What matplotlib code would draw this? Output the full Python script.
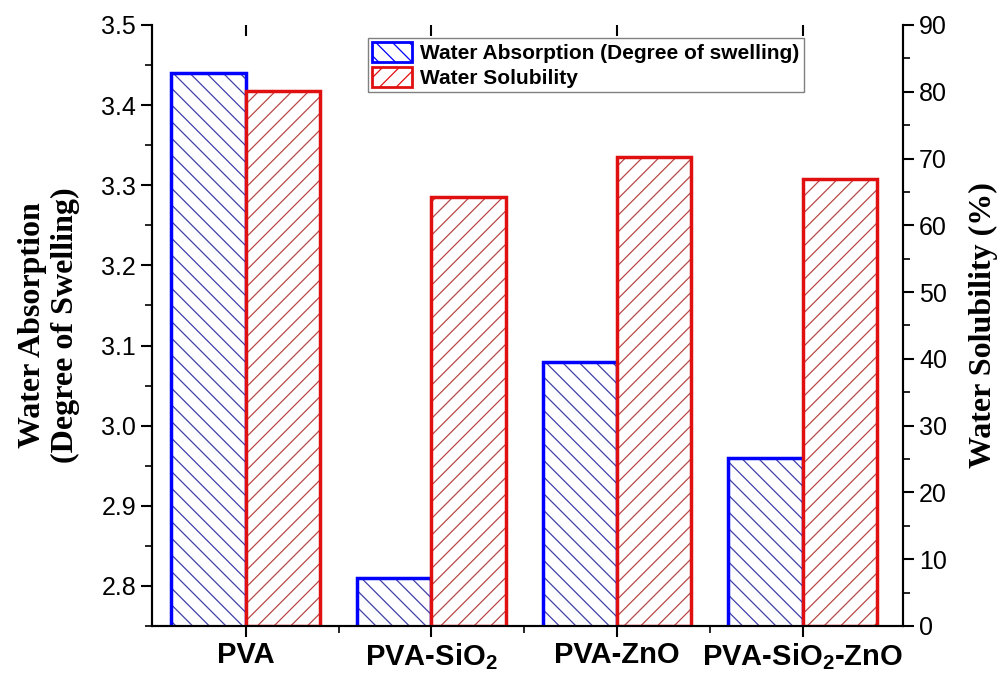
import numpy as np
import matplotlib as mpl
import matplotlib.pyplot as plt
from matplotlib.patches import Patch

###############################################################################
samples = ['PVA', r'PVA-SiO$_\mathbf{2}$', 'PVA-ZnO', r'PVA-SiO$_\mathbf{2}$-ZnO']
absorption = [3.44, 2.81, 3.08, 2.96]      # degree of swelling (left axis)
solubility = [80.1, 64.2, 70.2, 66.9]      # % (right axis)
blue = '#0000ff'
red = '#e01010'
blue_hatch = '#4040a8'
red_hatch = '#b84848'
###############################################################################

mpl.rcParams['font.family'] = 'Liberation Sans'
mpl.rcParams['mathtext.fontset'] = 'custom'
mpl.rcParams['mathtext.rm'] = 'Liberation Sans'
mpl.rcParams['mathtext.bf'] = 'Liberation Sans:bold'
mpl.rcParams['hatch.linewidth'] = 0.9

fig = plt.figure(figsize=(10, 6.75), dpi=100)
ax = fig.add_axes([0.152, 0.0726, 0.751, 0.8904])
ax2 = ax.twinx()

x = np.arange(len(samples))
w = 0.4

# hatch fill first, then the thick outline on top
ax.bar(x - w/2, absorption, w, facecolor='white', edgecolor=blue_hatch,
       hatch='\\\\', linewidth=0)
ax.bar(x - w/2, absorption, w, fill=False, edgecolor=blue, linewidth=2.5)
ax2.bar(x + w/2, solubility, w, facecolor='white', edgecolor=red_hatch,
        hatch='//', linewidth=0)
ax2.bar(x + w/2, solubility, w, fill=False, edgecolor=red, linewidth=2.5)

ax.set_xlim(-0.505, 3.54)
ax.set_ylim(2.75, 3.5)
ax2.set_ylim(0, 90)

ax.set_yticks(np.arange(2.8, 3.51, 0.1))
ax.set_yticks(np.arange(2.75, 3.51, 0.05), minor=True)
ax2.set_yticks(np.arange(0, 91, 10))
ax2.set_yticks(np.arange(0, 91, 5), minor=True)
ax.set_xticks(x)
ax.set_xticks(x[:-1] + 0.5, minor=True)
ax.set_xticklabels(samples, fontsize=21, fontweight='bold')

for a in (ax, ax2):
    a.spines['top'].set_visible(False)
    for s in ('left', 'right', 'bottom'):
        a.spines[s].set_linewidth(1.5)
ax.tick_params(axis='y', which='major', labelsize=18, length=8, width=1.5, direction='out')
ax.tick_params(axis='y', which='minor', length=5, width=1.2, direction='out')
ax2.tick_params(axis='y', which='major', labelsize=18, length=8, width=1.5, direction='out')
ax2.tick_params(axis='y', which='minor', length=5, width=1.2, direction='out')
ax.tick_params(axis='x', which='major', length=8, width=1.5, direction='out', pad=3)
ax.tick_params(axis='x', which='minor', length=5, width=1.2, direction='out')

# top ticks only (no top line), pointing inward
top = ax.secondary_xaxis('top')
top.set_xticks(x)
top.tick_params(axis='x', which='major', direction='in', length=8, width=1.5,
                labeltop=False)
top.spines['top'].set_visible(False)

ax.set_ylabel('Water Absorption\n(Degree of Swelling)', fontsize=23,
              fontname='Liberation Serif', fontweight='bold', labelpad=15)
ax2.set_ylabel('Water Solubility (%)', fontsize=23,
               fontname='Liberation Serif', fontweight='bold', labelpad=16)

handles = [Patch(facecolor='white', edgecolor=blue, hatch='\\\\', linewidth=2),
           Patch(facecolor='white', edgecolor=red, hatch='//', linewidth=2)]
leg = ax2.legend(handles, ['Water Absorption (Degree of swelling)', 'Water Solubility'],
                 loc='upper left', bbox_to_anchor=(0.288, 0.978),
                 prop={'family': 'Liberation Sans', 'weight': 'bold', 'size': 15},
                 fancybox=False, framealpha=1, edgecolor='#808080',
                 handlelength=1.9, handleheight=1.05, labelspacing=0.2,
                 borderpad=0.2, handletextpad=0.4, borderaxespad=0)
leg.get_frame().set_linewidth(1)

plt.savefig('out.png', dpi=100)
plt.close()
